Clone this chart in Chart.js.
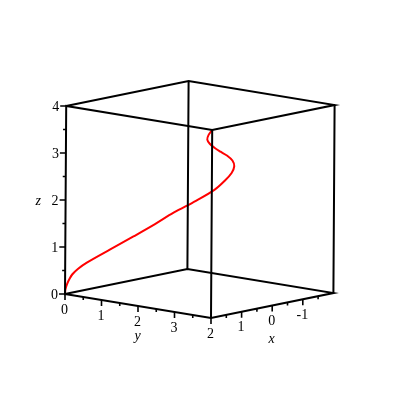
<!DOCTYPE html>
<html>
<head>
<meta charset="utf-8">
<script src="https://cdn.jsdelivr.net/npm/chart.js@4/dist/chart.umd.min.js"></script>
<style>
  html, body { margin: 0; padding: 0; background: #fff; }
  #wrap { width: 400px; height: 400px; }
</style>
</head>
<body>
<div id="wrap"><canvas id="myChart" width="400" height="400"></canvas></div>
<script>
// box ranges (x runs 2 -> -2 from the front corner to the right)
const xRange = [-2, 2];
const yRange = [0, 4];
const zRange = [0, 4];

// tick labels and minor ticks
const xTickLabels = [2, 1, 0, -1];
const xMinorTicks = [1.5, 0.5, -0.5, -1.5];
const yTickLabels = [0, 1, 2, 3];
const yMinorTicks = [0.5, 1.5, 2.5, 3.5];
const zTickLabels = [0, 1, 2, 3, 4];
const zMinorTicks = [0.5, 1.5, 2.5, 3.5];

// space curve
const curveX = [2, 1.99, 1.95, 1.89, 1.81, 1.65, 1.4, 0.72, 0.07, -0.5, -0.95, -1.5, -1.9, -2, -1.98, -1.79, -1.43, -0.94, -0.37, 0.2, 0.75, 1.25, 1.65, 2];
const curveY = [0, 0.0025, 0.01, 0.0225, 0.04, 0.0625, 0.09, 0.16, 0.25, 0.36, 0.49, 0.64, 0.81, 1, 1.21, 1.44, 1.69, 1.96, 2.25, 2.56, 2.89, 3.24, 3.61, 4];
const curveZ = [0, 0.1, 0.2, 0.3, 0.4, 0.5, 0.6, 0.8, 1, 1.2, 1.4, 1.6, 1.8, 2, 2.2, 2.4, 2.6, 2.8, 3, 3.2, 3.4, 3.6, 3.8, 4];

// orthographic view: screen offset per unit of x, y, z
const view = { ox: 126.2, oy: 281.5, ex: [-30.6, 6.25], ey: [36.5, 6], ez: [0.3, -47] };
function project(x, y, z) {
  return {
    x: view.ox + view.ex[0] * x + view.ey[0] * y + view.ez[0] * z,
    y: view.oy + view.ex[1] * x + view.ey[1] * y + view.ez[1] * z
  };
}

const [x0, x1] = xRange, [y0, y1] = yRange, [z0, z1] = zRange;
const P = (x, y, z) => project(x, y, z);

// box edges
const bottomTop = [
  P(x1, y0, z0), P(x1, y1, z0), P(x0, y1, z0), P(x0, y0, z0), P(x1, y0, z0),
  P(x1, y0, z1), P(x1, y1, z1), P(x0, y1, z1), P(x0, y0, z1), P(x1, y0, z1)
];
const verticals = [
  P(x1, y1, z0), P(x1, y1, z1), null,
  P(x0, y1, z0), P(x0, y1, z1), null,
  P(x0, y0, z0), P(x0, y0, z1)
];

// ticks (screen direction: down for x/y axes, left for z axis)
const ticks = [];
function addTick(p, dx, dy) { ticks.push(p, { x: p.x + dx, y: p.y + dy }, null); }
xTickLabels.forEach(v => addTick(P(v, y1, z0), 0, 6));
xMinorTicks.forEach(v => addTick(P(v, y1, z0), 0, 3));
yTickLabels.forEach(v => addTick(P(x1, v, z0), 0, 6));
yMinorTicks.forEach(v => addTick(P(x1, v, z0), 0, 3));
zTickLabels.forEach(v => addTick(P(x1, y0, v), -6, 0));
zMinorTicks.forEach(v => addTick(P(x1, y0, v), -3, 0));

const curve = curveX.map((x, i) => P(x, curveY[i], curveZ[i]));

const fix = arr => arr.map(p => p === null ? { x: null, y: null } : p);

const labelPlugin = {
  id: 'axisLabels',
  afterDatasetsDraw(chart) {
    const ctx = chart.ctx, sx = chart.scales.x, sy = chart.scales.y;
    const put = (p, dx, dy, txt, align, font) => {
      ctx.font = font;
      ctx.textAlign = align;
      ctx.textBaseline = 'middle';
      ctx.fillText(txt, sx.getPixelForValue(p.x) + dx, sy.getPixelForValue(p.y) + dy);
    };
    ctx.save();
    ctx.fillStyle = '#000';
    const num = '14px "Liberation Serif", serif';
    const ital = 'italic 14px "Liberation Serif", serif';
    xTickLabels.forEach(v => put(P(v, y1, z0), -0.5, 16, String(v), 'center', num));
    yTickLabels.forEach(v => put(P(x1, v, z0), -0.5, 16, String(v), 'center', num));
    zTickLabels.forEach(v => put(P(x1, y0, v), -7, 1, String(v), 'right', num));
    put(P(0, y1, z0), -0.5, 34, 'x', 'center', ital);
    put(P(x1, 2, z0), -0.5, 30.5, 'y', 'center', ital);
    put(P(x1, y0, 2), -27.5, 1, 'z', 'center', ital);
    ctx.restore();
  }
};

const lineSet = (data, color, width, tension) => ({
  data: fix(data), showLine: true, spanGaps: false, borderColor: color,
  borderWidth: width, pointRadius: 0, fill: false, tension: tension || 0
});

const chart = new Chart(document.getElementById('myChart'), {
  type: 'scatter',
  data: {
    datasets: [
      lineSet(bottomTop, '#000', 2),
      lineSet(verticals, '#000', 2),
      lineSet(ticks, '#000', 1.6),
      lineSet(curve, '#ff0000', 2, 0.35)
    ]
  },
  options: {
    responsive: false,
    animation: false,
    layout: { padding: 0 },
    scales: {
      x: { type: 'linear', min: 0, max: 400, display: false },
      y: { type: 'linear', min: 0, max: 400, reverse: true, display: false }
    },
    plugins: { legend: { display: false }, tooltip: { enabled: false } }
  },
  plugins: [labelPlugin]
});
</script>
</body>
</html>
